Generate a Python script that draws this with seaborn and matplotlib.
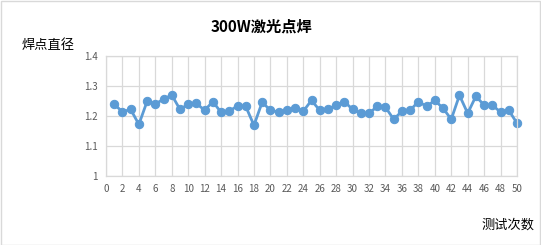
import matplotlib
matplotlib.use("Agg")
import matplotlib.pyplot as plt
import seaborn as sns
import pandas as pd
from matplotlib.patches import Rectangle

test_no = list(range(1, 51))
diameter = [1.239, 1.214, 1.222, 1.172, 1.249, 1.240, 1.256, 1.270, 1.222, 1.239,
            1.242, 1.219, 1.248, 1.212, 1.216, 1.234, 1.232, 1.169, 1.246, 1.219,
            1.213, 1.219, 1.228, 1.216, 1.252, 1.219, 1.223, 1.236, 1.248, 1.222,
            1.209, 1.209, 1.232, 1.229, 1.189, 1.216, 1.219, 1.248, 1.232, 1.252,
            1.226, 1.189, 1.269, 1.209, 1.266, 1.236, 1.236, 1.213, 1.219, 1.176]
xticks = list(range(0, 51, 2))
yticks = [1.0, 1.1, 1.2, 1.3, 1.4]
ytick_labels = ["1", "1.1", "1.2", "1.3", "1.4"]

sns.set_theme(style="white")
plt.rcParams['font.family'] = ['Noto Sans CJK SC', 'DejaVu Sans']

df = pd.DataFrame({"x": test_no, "y": diameter})

W, H = 541, 245
fig = plt.figure(figsize=(W / 100, H / 100), dpi=100)
ax = fig.add_axes([106 / W, 1 - 176 / H, (517 - 106) / W, (176 - 56) / H])

sns.lineplot(data=df, x="x", y="y", ax=ax, color="#5b9bd5", linewidth=2,
             marker="o", markersize=6, markeredgecolor="#5b9bd5")
for ln in ax.lines:
    ln.set_clip_on(False)

ax.set_xlim(0, 50)
ax.set_ylim(1.0, 1.4)
ax.set_xticks(xticks)
ax.set_yticks(yticks)
ax.set_yticklabels(ytick_labels)
ax.grid(True, color="#d9d9d9", linewidth=0.9)
ax.set_axisbelow(True)
for s in ax.spines.values():
    s.set_color("#d9d9d9")
    s.set_linewidth(0.9)
ax.tick_params(axis="both", length=0, labelsize=7, colors="#595959", pad=6)
ax.set_xlabel("")
ax.set_ylabel("")

fig.text(262 / W, 1 - 27 / H, "300W激光点焊", ha="center", va="center",
         fontsize=11, fontweight="bold", color="#000000")
fig.text(22 / W, 1 - 45 / H, "焊点直径", ha="left", va="center",
         fontsize=9.5, color="#000000")
fig.text(534 / W, 1 - 225 / H, "测试次数", ha="right", va="center",
         fontsize=9.5, color="#000000")

fig.patches.append(Rectangle((0.5 / W, 0.5 / H), 1 - 1.5 / W, 1 - 1.5 / H,
                             transform=fig.transFigure, fill=False,
                             edgecolor="#d9d9d9", linewidth=1))

fig.savefig("out.png", dpi=100)
